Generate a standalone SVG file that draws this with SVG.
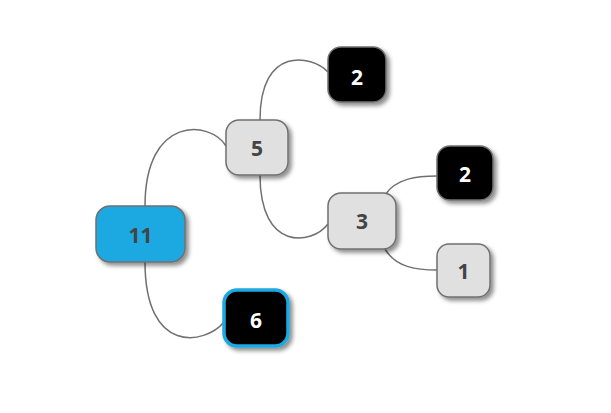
<svg xmlns="http://www.w3.org/2000/svg" width="611" height="413" viewBox="0 0 611 413">
<defs>
<filter id="sh" x="-30%" y="-30%" width="160%" height="160%">
<feGaussianBlur in="SourceAlpha" stdDeviation="2"/>
<feOffset dx="3" dy="3" result="b"/>
<feFlood flood-color="#000" flood-opacity="0.45"/>
<feComposite in2="b" operator="in"/>
<feMerge><feMergeNode/><feMergeNode in="SourceGraphic"/></feMerge>
</filter>
</defs>
<style>
.c{fill:none;stroke:#707070;stroke-width:1.5}
.n rect{filter:url(#sh);stroke:#707070;stroke-width:1.5}
.g rect{fill:#e0e0e0}
.k rect{fill:#000}
.t{font-family:"Open Sans","DejaVu Sans",sans-serif;font-weight:bold;font-size:21px;text-anchor:middle;dominant-baseline:central}
.dk{fill:#444}
.wh{fill:#fff}
</style>
<rect width="611" height="413" fill="#fff"/>
<g id="connectors">
<path class="c" d="M145,206 C145,115 210,120 226,146"/>
<path class="c" d="M145,262 C145,355 205,345 224,322"/>
<path class="c" d="M260,120 C260,45 312,55 328,72"/>
<path class="c" d="M260,175 C260,252 312,245 328,224"/>
<path class="c" d="M385,195 C396,178 418,176 437,176"/>
<path class="c" d="M385,249 C396,268 418,270 437,270"/>
</g>
<g id="n11" class="n"><rect x="96" y="206" width="89" height="56" rx="14" fill="#1fa8e0"/><text class="t dk" x="140.5" y="235">11</text></g>
<g id="n5" class="n g"><rect x="226" y="120" width="62" height="55" rx="13"/><text class="t dk" x="257" y="148">5</text></g>
<g id="n2a" class="n k"><rect x="328" y="47" width="58" height="55" rx="13"/><text class="t wh" x="357" y="77">2</text></g>
<g id="n3" class="n g"><rect x="328" y="193" width="68" height="56" rx="13"/><text class="t dk" x="362" y="221">3</text></g>
<g id="n2b" class="n k"><rect x="437" y="146" width="56" height="54" rx="13"/><text class="t wh" x="465" y="174">2</text></g>
<g id="n1" class="n g"><rect x="437" y="244" width="53" height="53" rx="12"/><text class="t dk" x="463.5" y="271">1</text></g>
<g id="n6" class="n k"><rect x="224" y="290" width="64" height="56" rx="13" style="stroke:#1fa8e0;stroke-width:3.5"/><text class="t wh" x="256" y="320">6</text></g>
</svg>
